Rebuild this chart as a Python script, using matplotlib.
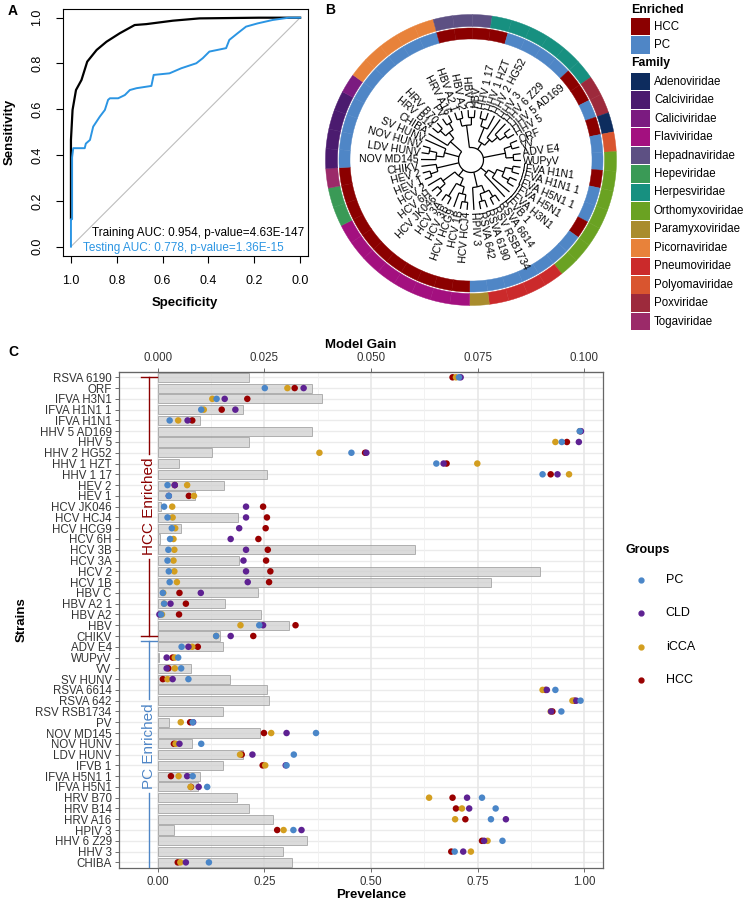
import numpy as np
import matplotlib
matplotlib.use('Agg')
import matplotlib.pyplot as plt
from matplotlib.patches import Wedge, Rectangle
from matplotlib.lines import Line2D

plt.rcParams['font.family'] = ['Liberation Sans', 'DejaVu Sans']

# ---------------- data: panel A (ROC) ----------------
train_spec = [1.0, 1.0, 0.993, 0.978, 0.954, 0.929, 0.888, 0.845, 0.787, 0.722, 0.671, 0.555, 0.439, 0.178, 0.0]
train_sens = [0.124, 0.466, 0.597, 0.684, 0.728, 0.808, 0.859, 0.895, 0.932, 0.968, 0.972, 0.987, 0.997, 1.0, 1.0]
test_spec = [1.0, 1.0, 0.995, 0.995, 0.99, 0.94, 0.935, 0.917, 0.903, 0.874, 0.852, 0.838, 0.83, 0.794,
             0.765, 0.743, 0.714, 0.649, 0.639, 0.570, 0.519, 0.453, 0.425, 0.396, 0.323, 0.309, 0.273,
             0.236, 0.186, 0.12, 0.05, 0.0]
test_sens = [0.0, 0.12, 0.12, 0.39, 0.43, 0.43, 0.45, 0.466, 0.524, 0.568, 0.597, 0.641, 0.648, 0.648,
             0.662, 0.684, 0.692, 0.702, 0.750, 0.757, 0.779, 0.801, 0.823, 0.852, 0.867, 0.903, 0.932,
             0.961, 0.975, 0.99, 1.0, 1.0]

# ---------------- data: panel B (tree) ----------------
tree = [
    [["HBV A2 1", "HBV A2"], ["HBV C", "HBV"]],
    [[["HHV 1 17", "HHV 1 HZT"], "HHV 2 HG52"], ["HHV 3", ["HHV 6 Z29", ["HHV 5 AD169", "HHV 5"]]]],
    [["ORF", "VV"], ["ADV E4", "WUPyV"]],
    [[[["IFVA H1N1", "IFVA H1N1 1"], ["IFVA H5N1 1", "IFVA H5N1"]], "IFVA H3N1"], "IFVB 1"],
    [[["RSVA 6614", "RSV RSB1734"], ["RSVA 6190", "RSVA 642"]], "HPIV 3"],
    [[[["HCV HCJ4", "HCV 1B"], "HCV HCG9"], ["HCV 3B", "HCV 3A"]], [["HCV JK046", "HCV 6H"], "HCV 2"]],
    [["HEV 1", "HEV 2"], "CHIKV"],
    [["NOV MD145", ["LDV HUNV", "NOV HUNV"]], "SV HUNV"],
    ["CHIBA", [["HRV B14", "HRV B70"], ["PV", "HRV A16"]]],
]
# ring colours as read around the circle, one per leaf position (clockwise from the top)
ring_family = ["Picornaviridae"] + ["Hepadnaviridae"] * 3 + ["Herpesviridae"] * 6 + ["Poxviridae"] * 2 + \
    ["Adenoviridae", "Polyomaviridae"] + ["Orthomyxoviridae"] * 7 + ["Pneumoviridae"] * 4 + \
    ["Paramyxoviridae"] + ["Flaviviridae"] * 8 + ["Hepeviridae"] * 2 + ["Togaviridae"] + \
    ["Calciviridae"] * 4 + ["Caliciviridae"] + ["Picornaviridae"] * 4
ring_enriched = ["PC"] + ["HCC"] * 4 + ["PC"] * 4 + ["HCC"] * 2 + ["PC", "HCC", "PC", "PC", "HCC", "PC", "PC",
                                                                  "HCC"] + \
    ["PC"] * 7 + ["HCC"] * 11 + ["PC"] * 9

families = ["Adenoviridae", "Calciviridae", "Caliciviridae", "Flaviviridae", "Hepadnaviridae",
            "Hepeviridae", "Herpesviridae", "Orthomyxoviridae", "Paramyxoviridae", "Picornaviridae",
            "Pneumoviridae", "Polyomaviridae", "Poxviridae", "Togaviridae"]
family_colors = ["#0d2c5e", "#4b1b6f", "#7b1b80", "#a3107f", "#5d5083", "#3a9a56", "#179080",
                 "#6aa222", "#a98c2d", "#e8823a", "#cb2a2b", "#d9552f", "#9d2a3c", "#9b2a69"]
enriched_names = ["HCC", "PC"]
enriched_colors = ["#8b0000", "#4f86c6"]

# ---------------- data: panel C ----------------
strains = ["RSVA 6190", "ORF", "IFVA H3N1", "IFVA H1N1 1", "IFVA H1N1", "HHV 5 AD169", "HHV 5",
           "HHV 2 HG52", "HHV 1 HZT", "HHV 1 17", "HEV 2", "HEV 1", "HCV JK046", "HCV HCJ4",
           "HCV HCG9", "HCV 6H", "HCV 3B", "HCV 3A", "HCV 2", "HCV 1B", "HBV C", "HBV A2 1",
           "HBV A2", "HBV", "CHIKV",
           "ADV E4", "WUPyV", "VV", "SV HUNV", "RSVA 6614", "RSVA 642", "RSV RSB1734", "PV",
           "NOV MD145", "NOV HUNV", "LDV HUNV", "IFVB 1", "IFVA H5N1 1", "IFVA H5N1", "HRV B70",
           "HRV B14", "HRV A16", "HPIV 3", "HHV 6 Z29", "HHV 3", "CHIBA"]
n_hcc_enriched = 25
model_gain = [0.0215, 0.0361, 0.0386, 0.0200, 0.0100, 0.0362, 0.0213, 0.0128, 0.0051, 0.0256,
              0.0156, 0.0087, 0.0007, 0.0189, 0.0054, 0.0006, 0.0603, 0.0191, 0.0896, 0.0782,
              0.0236, 0.0158, 0.0241, 0.0308, 0.0147,
              0.0154, 0.0004, 0.0079, 0.0170, 0.0257, 0.0261, 0.0153, 0.0026, 0.0240, 0.0081,
              0.0201, 0.0154, 0.0100, 0.0095, 0.0186, 0.0215, 0.0271, 0.0039, 0.0350, 0.0294, 0.0315]
prev_pc = [0.706, 0.251, 0.138, 0.102, 0.028, 0.989, 0.947, 0.454, 0.653, 0.902, 0.023, 0.026,
           0.015, 0.023, 0.033, 0.029, 0.025, 0.023, 0.026, 0.028, 0.012, 0.015, 0.008, 0.238, 0.137,
           0.056, 0.048, 0.055, 0.072, 0.932, 0.991, 0.946, 0.082, 0.371, 0.102, 0.319, 0.302, 0.082,
           0.116, 0.760, 0.792, 0.781, 0.318, 0.808, 0.696, 0.120]
prev_cld = [0.710, 0.342, 0.157, 0.182, 0.070, 0.992, 0.987, 0.489, 0.670, 0.937, 0.040, 0.026,
            0.207, 0.207, 0.191, 0.171, 0.207, 0.201, 0.207, 0.211, 0.101, 0.030, 0.004, 0.247, 0.171,
            0.072, 0.021, 0.021, 0.035, 0.912, 0.981, 0.922, 0.083, 0.302, 0.051, 0.222, 0.300, 0.069,
            0.096, 0.725, 0.730, 0.816, 0.337, 0.765, 0.716, 0.066]
prev_icca = [0.699, 0.304, 0.128, 0.108, 0.048, 0.990, 0.932, 0.379, 0.749, 0.964, 0.069, 0.085,
             0.034, 0.035, 0.041, 0.037, 0.039, 0.037, 0.039, 0.045, 0.013, 0.015, 0.010, 0.194, 0.137,
             0.081, 0.040, 0.040, 0.023, 0.902, 0.972, 0.921, 0.054, 0.266, 0.042, 0.193, 0.252, 0.049,
             0.077, 0.636, 0.713, 0.697, 0.295, 0.773, 0.734, 0.053]
prev_hcc = [0.691, 0.321, 0.210, 0.150, 0.081, 0.990, 0.959, 0.486, 0.677, 0.921, 0.040, 0.073,
            0.247, 0.256, 0.253, 0.236, 0.258, 0.254, 0.264, 0.261, 0.051, 0.066, 0.050, 0.323, 0.224,
            0.094, 0.035, 0.025, 0.012, 0.909, 0.977, 0.925, 0.076, 0.249, 0.038, 0.197, 0.246, 0.031,
            0.078, 0.691, 0.699, 0.721, 0.280, 0.760, 0.688, 0.047]
group_names = ["PC", "CLD", "iCCA", "HCC"]
group_colors = ["#4a86c8", "#5e2192", "#d39e1f", "#990000"]

# ---------------- figure ----------------
W, H = 750, 902
fig = plt.figure(figsize=(7.5, 9.02), dpi=100)


def fx(px):
    return px / W


def fy(py):
    return 1 - py / H


# ===== Panel A =====
axA = fig.add_axes([fx(62.7), fy(256), 245 / W, 247 / H])
axA.plot([1, 0], [0, 1], color='#bdbdbd', lw=0.8)
axA.plot(train_spec, train_sens, color='black', lw=1.6)
axA.plot(test_spec, test_sens, color='#2b95e3', lw=1.4)
axA.set_xlim(1.036, -0.033)
axA.set_ylim(-0.041, 1.038)
ticks = np.arange(0, 1.01, 0.2)
axA.set_xticks(ticks)
axA.set_xticklabels([f"{t:.1f}" for t in ticks], fontsize=9)
axA.set_yticks(ticks)
axA.set_yticklabels([f"{t:.1f}" for t in ticks], fontsize=9, rotation=90, va='center')
axA.tick_params(direction='out', length=5, width=0.8, pad=9)
for s in axA.spines.values():
    s.set_linewidth(0.8)
fig.text(fx(304), fy(233), "Training AUC: 0.954, p-value=4.63E-147", ha='right', va='center', fontsize=8.5)
fig.text(fx(83.3), fy(248), "Testing AUC: 0.778, p-value=1.36E-15", ha='left', va='center',
         fontsize=8.5, color='#2b95e3')
fig.text(fx(10), fy(132), "Sensitivity", rotation=90, ha='center', va='center', fontsize=9.5,
         fontweight='bold')
fig.text(fx(185), fy(303), "Specificity", ha='center', va='center', fontsize=9.5, fontweight='bold')
fig.text(fx(8), fy(11), "A", fontsize=10, fontweight='bold', ha='left', va='center')

# ===== Panel B =====
axB = fig.add_axes([fx(471 - 150), fy(160 + 150), 300 / W, 300 / H])
axB.set_xlim(-150, 150)
axB.set_ylim(-150, 150)
axB.axis('off')

n_leaves = len(ring_family)
step_deg = 360 / n_leaves
theta0 = -19
r_tip, r_step = 50, 7.5


def pol(r, th):
    ph = np.deg2rad(90 - th)
    return r * np.cos(ph), r * np.sin(ph)


leaves = []
segments = []


def layout(node):
    if isinstance(node, str):
        th = theta0 + len(leaves) * step_deg
        leaves.append((node, th))
        return th, 0
    kids = [layout(c) for c in node]
    h = 1 + max(k[1] for k in kids)
    r = r_tip - r_step * h
    ths = [k[0] for k in kids]
    arc = np.linspace(min(ths), max(ths), 60)
    segments.append(pol(r, arc))
    for th_c, h_c in kids:
        r_c = r_tip - r_step * h_c
        segments.append(pol(np.array([r, r_c]), np.array([th_c, th_c])))
    return float(np.mean([ths[0], ths[-1]])), h


layout(tree)
for xs, ys in segments:
    axB.plot(xs, ys, color='black', lw=0.9, solid_capstyle='butt')

for name, th in leaves:
    x, y = pol(r_tip + 2, th)
    ph = 90 - th
    ph = (ph + 180) % 360 - 180
    if -90 <= ph <= 90:
        axB.text(x, y, name, rotation=ph, rotation_mode='anchor', ha='left', va='center', fontsize=7.6)
    else:
        axB.text(x, y, name, rotation=ph + 180, rotation_mode='anchor', ha='right', va='center',
                 fontsize=7.6)

for i, (name, th) in enumerate(leaves):
    t1, t2 = 90 - (th + step_deg / 2), 90 - (th - step_deg / 2)
    ce = enriched_colors[enriched_names.index(ring_enriched[i])]
    cf = family_colors[families.index(ring_family[i])]
    axB.add_patch(Wedge((0, 0), 132, t1, t2, width=11, facecolor=ce, edgecolor=ce, lw=0.3))
    axB.add_patch(Wedge((0, 0), 145.5, t1, t2, width=12, facecolor=cf, edgecolor=cf, lw=0.3))

fig.text(fx(330), fy(10), "B", fontsize=10, fontweight='bold', ha='center', va='center')

# legend for B
lx, lw_, lh = 631, 18.5, 17.5
fig.text(fx(lx), fy(10), "Enriched", fontsize=8.8, fontweight='bold', va='center', ha='left')
for i, (nm, c) in enumerate(zip(enriched_names, enriched_colors)):
    yc = 26.7 + i * 18.4
    fig.add_artist(Rectangle((fx(lx), fy(yc + lh / 2)), lw_ / W, lh / H, facecolor=c,
                             edgecolor='none', transform=fig.transFigure))
    fig.text(fx(654), fy(yc), nm, fontsize=8.3, va='center', ha='left')
fig.text(fx(lx), fy(63.3), "Family", fontsize=8.8, fontweight='bold', va='center', ha='left')
for i, (nm, c) in enumerate(zip(families, family_colors)):
    yc = 81.7 + i * 18.46
    fig.add_artist(Rectangle((fx(lx), fy(yc + lh / 2)), lw_ / W, lh / H, facecolor=c,
                             edgecolor='none', transform=fig.transFigure))
    fig.text(fx(654), fy(yc), nm, fontsize=8.3, va='center', ha='left')

# ===== Panel C =====
axC = fig.add_axes([fx(119.3), fy(868.3), 484 / W, 496.6 / H])
rows = np.arange(len(strains))
axC.set_xlim(-0.09, 1.0443)
axC.set_ylim(len(strains) - 0.45, -0.52)
for r in rows:
    axC.axhline(r, color='#ebebeb', lw=1.0, zorder=0)
for v in [0, 0.25, 0.5, 0.75, 1.0]:
    axC.axvline(v, color='#e6e6e6', lw=1.1, zorder=0)
for v in [0.125, 0.375, 0.625, 0.875]:
    axC.axvline(v, color='#f0f0f0', lw=0.6, zorder=0)

axC.barh(rows, np.array(model_gain) * 10, height=0.85, color='#d0d0d0', alpha=0.75,
         edgecolor='#9a9a9a', lw=0.7, zorder=2)

prevs = [prev_pc, prev_cld, prev_icca, prev_hcc]
for k in [3, 2, 1, 0]:
    axC.scatter(prevs[k], rows, s=22, color=group_colors[k], edgecolor='none', zorder=3 + (3 - k))

axC.set_yticks(rows)
axC.set_yticklabels(strains, fontsize=8.3, color='#333333')
axC.set_xticks([0, 0.25, 0.5, 0.75, 1.0])
axC.set_xticklabels(["0.00", "0.25", "0.50", "0.75", "1.00"], fontsize=8.3, color='#333333')
axC.tick_params(length=3, width=0.6, color='#555555', pad=2.5)
for s in axC.spines.values():
    s.set_color('#666666')
    s.set_linewidth(0.9)

sec = axC.secondary_xaxis('top', functions=(lambda v: v / 10, lambda v: v * 10))
sec.set_xticks([0, 0.025, 0.05, 0.075, 0.1])
sec.set_xticklabels(["0.000", "0.025", "0.050", "0.075", "0.100"], fontsize=8.3, color='#333333')
sec.tick_params(length=3, width=0.6, color='#555555', pad=2.5)
sec.spines['top'].set_color('#666666')

fig.text(fx(361), fy(345), "Model Gain", ha='center', va='center', fontsize=9.5, fontweight='bold')
fig.text(fx(371), fy(895), "Prevelance", ha='center', va='center', fontsize=9.5, fontweight='bold')
fig.text(fx(22), fy(620), "Strains", rotation=90, ha='center', va='center', fontsize=9.5,
         fontweight='bold')
fig.text(fx(8), fy(352), "C", fontsize=10, fontweight='bold', ha='left', va='center')

# enrichment brackets
bx, cap = -0.02, 0.018
fig.canvas.draw()
inv = axC.transData.inverted()


def bracket(r0, r1, label_row, color, label, cap_bottom=True):
    t = axC.text(bx, label_row, label, rotation=90, ha='center', va='center', fontsize=11, color=color,
                 zorder=5)
    bb = t.get_window_extent(renderer=fig.canvas.get_renderer())
    (_, ya), (_, yb) = inv.transform([(bb.x0, bb.y0 - 4), (bb.x0, bb.y1 + 4)])
    lo, hi = min(ya, yb), max(ya, yb)
    axC.plot([bx, bx], [r0, lo], color=color, lw=1.0, zorder=4)
    axC.plot([bx, bx], [hi, r1], color=color, lw=1.0, zorder=4)
    axC.plot([bx - cap, bx + cap], [r0, r0], color=color, lw=1.0, zorder=4)
    if cap_bottom:
        axC.plot([bx - cap, bx + cap], [r1, r1], color=color, lw=1.0, zorder=4)


bracket(0, n_hcc_enriched - 1, (n_hcc_enriched - 1) / 2, '#8b0000', 'HCC Enriched')
bracket(n_hcc_enriched - 0.5, len(strains) + 1, 34.2, '#4f86c6', 'PC Enriched', cap_bottom=False)

# groups legend
fig.text(fx(625), fy(550), "Groups", fontsize=9, fontweight='bold', ha='left', va='center')
for i, (nm, c) in enumerate(zip(group_names, group_colors)):
    yc = 580 + i * 33.3
    fig.add_artist(Line2D([fx(641.3)], [fy(yc)], marker='o', markersize=3.5, color=c, lw=0,
                          transform=fig.transFigure))
    fig.text(fx(665.7), fy(yc), nm, fontsize=9, ha='left', va='center')

fig.savefig('out.png', dpi=100)
